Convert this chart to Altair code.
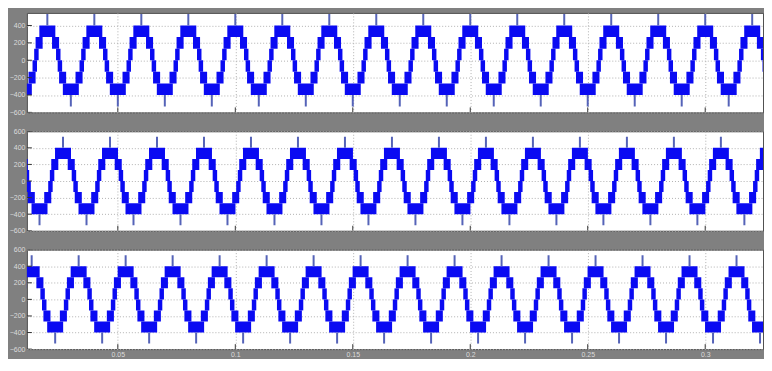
import altair as alt
import pandas as pd

# ---- axes ----
x_domain = [0.0113, 0.3246]                    # seconds shown
x_ticks = [0.05, 0.1, 0.15, 0.2, 0.25, 0.3]
y_ticks = [-600, -400, -200, 0, 200, 400, 600]
y_domains = [[-600, 545], [-600, 600], [-600, 600]]
panel_heights = [100, 100, 100]
plot_width = 740

# ---- waveform shape (one 50 Hz period) ----
period_ms = 20.0
panel_peak_ms = [0.0, 6.67, 13.33]             # first positive peak of each line voltage
# PWM bands of the positive half wave: time span (ms from the peak centre) and levels
band_from_ms = [0.0, 2.0, 3.7]
band_to_ms = [3.4, 5.0, 5.6]
band_low = [267, 133, 0]
band_high = [400, 267, 133]
spike_base = 400
spike_tip = 533

# ---- build the tables from the values above ----
band_rows, spike_rows = [], []
for p, peak in enumerate(panel_peak_ms):
    for k in range(-1, 18):
        for sign, centre in ((1, peak + k * period_ms), (-1, peak + k * period_ms + period_ms / 2)):
            for i in range(len(band_low)):
                lo, hi = (band_low[i], band_high[i]) if sign > 0 else (-band_high[i], -band_low[i])
                e0, e1 = band_from_ms[i], band_to_ms[i]
                if e0 == 0:
                    spans = [(centre - e1, centre + e1)]
                else:
                    spans = [(centre - e1, centre - e0), (centre + e0, centre + e1)]
                for a, b in spans:
                    band_rows.append({"panel": p, "t0": a / 1000, "t1": b / 1000, "lo": lo, "hi": hi})
            spike_rows.append({"panel": p, "t": centre / 1000,
                               "a": sign * spike_base, "b": sign * spike_tip})

bands = pd.DataFrame(band_rows)
spikes = pd.DataFrame(spike_rows)
xt = pd.DataFrame({"v": x_ticks})

BLUE = "#0a0af2"
SPIKE = "#5563b8"


def panel(p, show_labels):
    h = panel_heights[p]
    lo_d, hi_d = y_domains[p]
    yvals = [v for v in y_ticks if lo_d <= v <= hi_d]
    yt = pd.DataFrame({"v": yvals})
    xs = alt.Scale(domain=x_domain, nice=False, zero=False)
    ys = alt.Scale(domain=y_domains[p], nice=False, zero=False)

    def xaxis():
        return alt.Axis(values=x_ticks, grid=True, labels=show_labels, ticks=False,
                        domain=False, title=None, format=".2~f", labelPadding=1,
                        labelOverlap=False)

    def yaxis():
        return alt.Axis(values=yvals, grid=True, ticks=False, domain=False,
                        title=None, labelPadding=2, labelOverlap=False)

    rect = alt.Chart(bands[bands.panel == p]).mark_rect(color=BLUE, clip=True).encode(
        x=alt.X("t0:Q", scale=xs, axis=xaxis()),
        x2="t1:Q",
        y=alt.Y("lo:Q", scale=ys, axis=yaxis()),
        y2="hi:Q",
    )
    spk = alt.Chart(spikes[spikes.panel == p]).mark_rule(
        color=SPIKE, strokeWidth=2, clip=True).encode(
        x=alt.X("t:Q", scale=xs, axis=xaxis()),
        y=alt.Y("a:Q", scale=ys, axis=yaxis()),
        y2="b:Q",
    )
    ytick = alt.Chart(yt).mark_rule(color="#333333", clip=True).encode(
        x=alt.value(0), x2=alt.value(5),
        y=alt.Y("v:Q", scale=ys, axis=yaxis()),
    )
    xtick = alt.Chart(xt).mark_rule(color="#333333", clip=True).encode(
        x=alt.X("v:Q", scale=xs, axis=xaxis()),
        y=alt.value(h), y2=alt.value(h - 5),
    )
    return alt.layer(rect, spk, ytick, xtick).properties(width=plot_width, height=h)


chart = alt.vconcat(
    panel(0, False), panel(1, False), panel(2, True),
    spacing=19, bounds="flush",
).properties(
    background="#808080",
    padding={"left": 0, "top": 3, "right": 0, "bottom": 0},
).configure_view(
    fill="white", stroke="#505050", strokeWidth=1,
).configure_axis(
    labelFont="Liberation Sans", labelFontSize=7, labelColor="#dcdcdc",
    gridColor="#b0b0b0", gridDash=[1, 2], gridWidth=1, labelOverlap=False,
)

chart.save("out.html", embed_options={"renderer": "svg", "actions": False})
